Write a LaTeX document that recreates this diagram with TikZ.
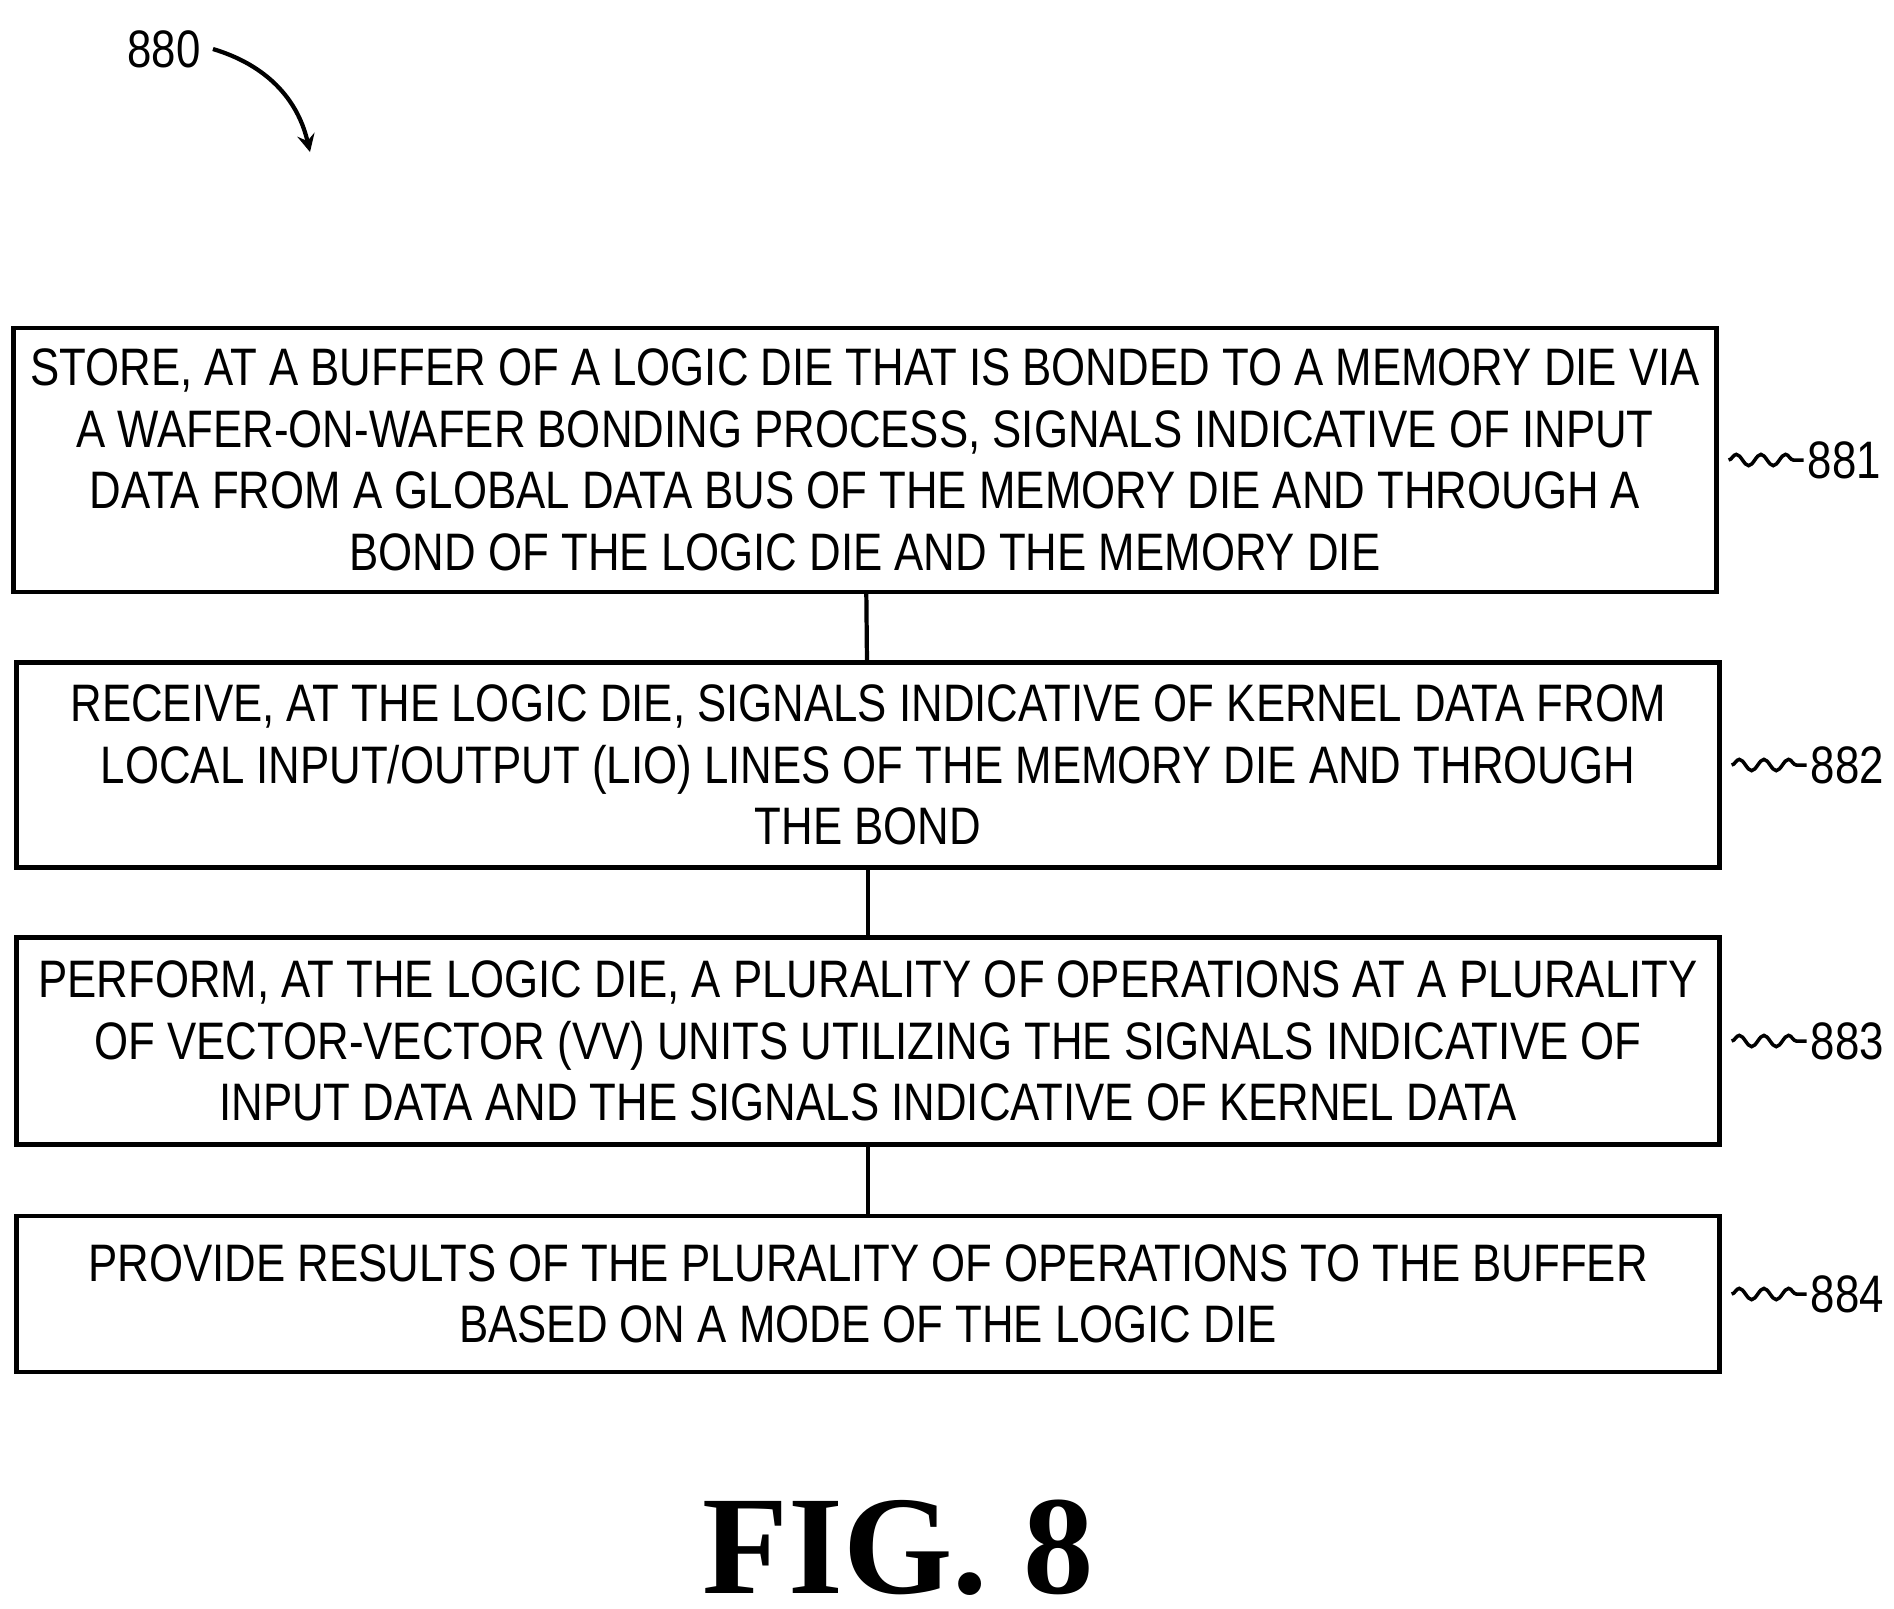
\documentclass[tikz,border=0pt]{standalone}
\usepackage{fontspec}
\setmainfont[FakeStretch=0.83]{Liberation Sans}
\newfontfamily\figfont{Liberation Serif}
\usetikzlibrary{decorations.pathmorphing}
\tikzset{
  stepbox/.style={draw, line width=1.2pt, minimum width=17.02cm, align=center,
    font=\fontsize{15}{17.5}\selectfont, inner sep=2pt},
  squig/.style={line width=1pt, decorate, decoration={snake, amplitude=1.6pt, segment length=7pt}}
}
\begin{document}
\begin{tikzpicture}[x=0.01cm, y=-0.01cm]
    \useasboundingbox (0,0) rectangle (1894,1608);
    % Steps
    \node[stepbox, minimum height=2.64cm] (s1) at (865,460) {STORE, AT A BUFFER OF A LOGIC DIE THAT IS BONDED TO A MEMORY DIE VIA\\A WAFER-ON-WAFER BONDING PROCESS, SIGNALS INDICATIVE OF INPUT\\DATA FROM A GLOBAL DATA BUS OF THE MEMORY DIE AND THROUGH A\\BOND OF THE LOGIC DIE AND THE MEMORY DIE};
    \node[stepbox, minimum height=2.05cm] (s2) at (868,765) {RECEIVE, AT THE LOGIC DIE, SIGNALS INDICATIVE OF KERNEL DATA FROM\\LOCAL INPUT/OUTPUT (LIO) LINES OF THE MEMORY DIE AND THROUGH\\THE BOND};
    \node[stepbox, minimum height=2.07cm] (s3) at (868,1041) {PERFORM, AT THE LOGIC DIE, A PLURALITY OF OPERATIONS AT A PLURALITY\\OF VECTOR-VECTOR (VV) UNITS UTILIZING THE SIGNALS INDICATIVE OF\\INPUT DATA AND THE SIGNALS INDICATIVE OF KERNEL DATA};
    \node[stepbox, minimum height=1.56cm] (s4) at (868,1294) {PROVIDE RESULTS OF THE PLURALITY OF OPERATIONS TO THE BUFFER\\BASED ON A MODE OF THE LOGIC DIE};
    \draw[line width=1.2pt] (s1) -- (s2);
    \draw[line width=1.2pt] (s2) -- (s3);
    \draw[line width=1.2pt] (s3) -- (s4);
    % Reference labels
    \foreach \s/\n in {s1/881, s2/882, s3/883, s4/884} {
        \node[font=\fontsize{15}{17}\selectfont, anchor=west, inner sep=1pt] (l\n) at ([xshift=0.85cm]\s.east) {\n};
        \draw[squig] (\s.east) ++(0.1cm,0) -- (l\n.west);
    }
    \node[font=\fontsize{15}{17}\selectfont] (n880) at (164,49) {880};
    \draw[line width=1.2pt, -stealth] (n880.east) to[bend left=30] (310,152);
    \node[font=\figfont\bfseries\fontsize{40}{44}\selectfont] (fig) at (898,1548) {FIG. 8};
\end{tikzpicture}
\end{document}
